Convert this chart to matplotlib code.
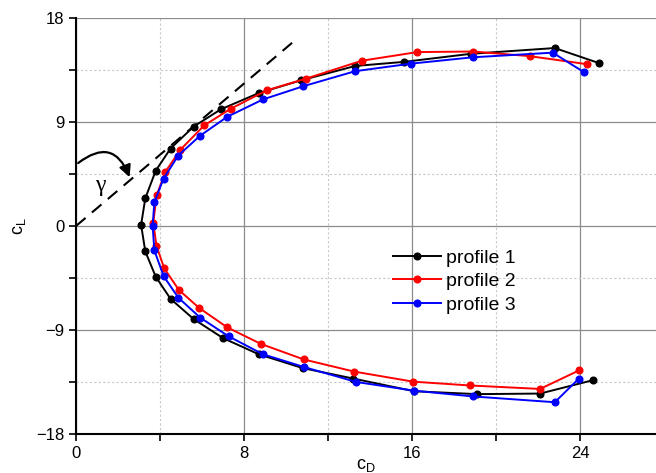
import numpy as np
import matplotlib.pyplot as plt
from matplotlib.patches import FancyArrowPatch
from matplotlib.ticker import MultipleLocator

plt.rcParams['font.family'] = ['Liberation Sans', 'DejaVu Sans']

# profile 1 (black), upper branch from tip to nose, then lower branch
cd_1 = [24.9, 22.8, 18.8, 15.6, 13.3, 10.7, 8.7, 6.9, 5.6, 4.5, 3.8, 3.3, 3.1,
        3.3, 3.8, 4.5, 5.6, 7.0, 8.7, 10.8, 13.2, 16.1, 19.1, 22.1, 24.6]
cl_1 = [14.1, 15.4, 14.9, 14.2, 13.85, 12.6, 11.5, 10.1, 8.6, 6.7, 4.8, 2.4, 0.1,
        -2.2, -4.4, -6.3, -8.05, -9.7, -11.1, -12.3, -13.2, -14.3, -14.55, -14.5, -13.35]

# profile 2 (red)
cd_2 = [24.35, 21.6, 18.9, 16.25, 13.6, 10.95, 9.1, 7.37, 6.1, 4.97, 4.25, 3.84, 3.68,
        3.83, 4.2, 4.9, 5.87, 7.2, 8.8, 10.85, 13.25, 16.05, 18.75, 22.1, 23.95]
cl_2 = [14.0, 14.7, 15.1, 15.05, 14.3, 12.75, 11.75, 10.15, 8.7, 6.6, 4.67, 2.65, 0.3,
        -1.7, -3.66, -5.54, -7.1, -8.77, -10.2, -11.55, -12.6, -13.47, -13.8, -14.1, -12.5]

# profile 3 (blue)
cd_3 = [24.2, 22.7, 18.9, 15.95, 13.3, 10.83, 8.9, 7.2, 5.9, 4.87, 4.17, 3.73, 3.65,
        3.73, 4.17, 4.87, 5.92, 7.27, 8.9, 10.85, 13.35, 16.1, 18.9, 22.8, 23.95]
cl_3 = [13.3, 15.0, 14.6, 14.05, 13.4, 12.1, 10.95, 9.45, 7.8, 6.1, 4.1, 2.05, 0.0,
        -2.1, -4.33, -6.2, -7.94, -9.55, -11.1, -12.2, -13.5, -14.25, -14.75, -15.25, -13.2]

# tangent line from origin
tangent_cd = [0, 10.45]
tangent_cl = [0, 16.1]

fig = plt.figure(figsize=(6.56, 4.73), dpi=100)
ax = fig.add_axes([76 / 656, 39 / 473, 580 / 656, 416 / 473])

ax.plot(cd_1, cl_1, '-o', color='black', lw=1.4, ms=4.8, label='profile 1')
ax.plot(cd_2, cl_2, '-o', color='red', lw=1.4, ms=4.8, label='profile 2')
ax.plot(cd_3, cl_3, '-o', color='blue', lw=1.4, ms=4.8, label='profile 3')

ax.plot(tangent_cd, tangent_cl, color='black', lw=1.5, dashes=(6, 4))

arrow = FancyArrowPatch((0.0, 5.3), (2.6, 4.0), connectionstyle='arc3,rad=-0.7',
                        arrowstyle='-|>,head_length=7,head_width=3.5', color='black', lw=1.6)
ax.add_patch(arrow)
ax.text(1.15, 3.5, 'γ', fontsize=17, family='Liberation Serif', ha='center', va='center')

ax.set_xlim(0, 580 / 21)
ax.set_ylim(-18, 18)
ax.xaxis.set_major_locator(MultipleLocator(8))
ax.xaxis.set_minor_locator(MultipleLocator(4))
ax.yaxis.set_major_locator(MultipleLocator(9))
ax.yaxis.set_minor_locator(MultipleLocator(4.5))
ax.grid(which='major', color='#8c8c8c', lw=0.9, ls='-')
ax.grid(which='minor', color='#c8c8c8', lw=0.8, ls=(0, (2, 2)))
ax.set_axisbelow(True)

ax.spines['top'].set_visible(False)
ax.spines['right'].set_visible(False)
ax.spines['left'].set_linewidth(1.5)
ax.spines['bottom'].set_linewidth(1.5)
ax.tick_params(which='both', direction='out', width=1.2, length=5, labelsize=12)

ax.set_xlabel('c$_\\mathregular{D}$', fontsize=13, labelpad=-3)
ax.set_ylabel('c$_\\mathregular{L}$', fontsize=13, labelpad=6)

ax.legend(loc='upper left', bbox_to_anchor=(307 / 580, 0.468), frameon=False, fontsize=14,
          handlelength=2.5, handletextpad=0.25, labelspacing=0.3, borderpad=0)

fig.savefig('out.png', dpi=100)
